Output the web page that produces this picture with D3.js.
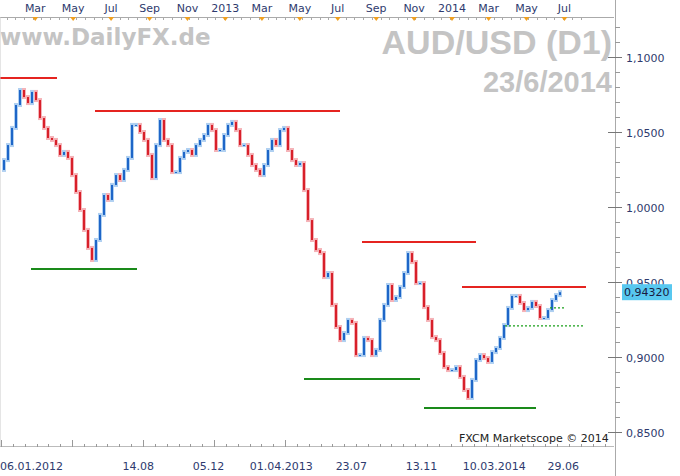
<!DOCTYPE html>
<html><head><meta charset="utf-8">
<script src="https://cdn.jsdelivr.net/npm/d3@7"></script>
<style>body{margin:0;background:#fff}svg{display:block;font-family:"DejaVu Sans",Verdana,sans-serif}</style>
</head><body><svg id="c" width="680" height="476"></svg>
<script>
// closes sampled roughly every 4 px (~6 trading days)
const closes=[1.0247,1.0313,1.0413,1.0527,1.068,1.078,1.0733,1.0693,1.0767,1.0713,1.0593,1.0527,1.046,1.0447,1.0413,1.0347,1.0367,1.0327,1.0213,1.01,0.998,0.9847,0.9727,0.9647,0.978,0.9947,1.008,1.0047,1.0147,1.0213,1.018,1.0247,1.0327,1.0547,1.0547,1.05,1.0447,1.0347,1.0193,1.0413,1.058,1.0447,1.0413,1.0233,1.0233,1.0327,1.0367,1.038,1.0347,1.0413,1.0447,1.048,1.0547,1.0513,1.038,1.038,1.048,1.0547,1.0567,1.0513,1.0413,1.0413,1.0347,1.028,1.0247,1.0213,1.028,1.038,1.0447,1.0413,1.0513,1.0527,1.038,1.0313,1.028,1.0293,1.0113,0.9913,0.978,0.9713,0.9693,0.9533,0.956,0.9347,0.92,0.9113,0.916,0.9247,0.9227,0.9013,0.9013,0.9127,0.9113,0.9013,0.9047,0.9247,0.9347,0.948,0.938,0.94,0.9467,0.956,0.9693,0.9633,0.9493,0.9493,0.9333,0.9247,0.9133,0.9113,0.9027,0.8933,0.8913,0.8913,0.8933,0.8867,0.878,0.8727,0.8847,0.898,0.9013,0.8993,0.8967,0.9033,0.906,0.9127,0.9213,0.9327,0.9407,0.9407,0.936,0.9313,0.9327,0.9367,0.934,0.926,0.926,0.9313,0.938,0.9413,0.9432];
const topLabels=["Mar","May","Jul","Sep","Nov","2013","Mar","May","Jul","Sep","Nov","2014","Mar","May","Jul"];
const topDates=["2012-03-01","2012-05-01","2012-07-01","2012-09-01","2012-11-01","2013-01-01","2013-03-01","2013-05-01","2013-07-01","2013-09-01","2013-11-01","2014-01-01","2014-03-01","2014-05-01","2014-07-01"];
const bottomLabels=["06.01.2012","14.08","05.12","01.04.2013","23.07","13.11","10.03.2014","29.06"];
const bottomDates=["2012-01-06","2012-08-14","2012-12-05","2013-04-01","2013-07-23","2013-11-13","2014-03-10","2014-06-29"];
const priceTicks=[1.1,1.05,1.0,0.95,0.9,0.85];
const lastPrice=0.9432;
// support/resistance: [startIndex, endIndex, price, color, dashed]
const levels=[[0,14.25,1.086,"#e52420",0],[23.75,85,1.064,"#e52420",0],[7.75,34.25,0.9587,"#1a8a1a",0],[90.5,119,0.9767,"#e52420",0],[76,105,0.8853,"#1a8a1a",0],[115.5,146.5,0.9467,"#e52420",0],[106,134,0.866,"#1a8a1a",0],[126.25,146.25,0.9207,"#1aa01a",1],[137.5,141,0.9327,"#1aa01a",1]];

const svg=d3.select("#c");
const y=d3.scaleLinear().domain([0.85,1.1]).range([432,57]);
const xi=d3.scaleLinear().domain([0,closes.length-1]).range([0,560]);
const xt=d3.scaleTime().domain([new Date("2012-01-01"),new Date("2014-01-01")]).range([-2,452]);
const txt="#2e3a6e";

// watermark texts
svg.append("text").attr("x",0).attr("y",45).attr("font-size",23).attr("font-weight","bold").attr("fill","#c4c4c4").text("www.DailyFX.de");
svg.append("text").attr("x",612).attr("y",54).attr("text-anchor","end").attr("font-size",34).attr("font-weight","bold").attr("fill","#c4c4c4").attr("font-family","Liberation Sans,Arial").text("AUD/USD (D1)");
svg.append("text").attr("x",612).attr("y",92).attr("text-anchor","end").attr("font-size",29).attr("font-weight","bold").attr("fill","#c4c4c4").attr("font-family","Liberation Sans,Arial").text("23/6/2014");

// candles
const g=svg.append("g");
closes.forEach((c,i)=>{
  if(i===0)return;
  const o=closes[i-1], up=c>=o;
  const x=xi(i)-1.5;
  g.append("rect").attr("x",x-0.5).attr("width",4).attr("y",y(Math.max(o,c))-2).attr("height",Math.abs(y(o)-y(c))+4).attr("fill",up?"#9cc4ee":"#f3a0a6").attr("opacity",0.8);
  g.append("rect").attr("x",x+0.5).attr("width",2).attr("y",y(Math.max(o,c))).attr("height",Math.max(1,Math.abs(y(o)-y(c)))).attr("fill",up?"#1e66c8":"#d8202a");
});
levels.forEach(l=>{
  svg.append("line").attr("x1",xi(l[0])).attr("x2",xi(l[1])).attr("y1",y(l[2])).attr("y2",y(l[2]))
   .attr("stroke",l[3]).attr("stroke-width",l[4]?1.3:2).attr("stroke-dasharray",l[4]?"2,2":null);
});

// top axis
svg.append("line").attr("x1",0).attr("x2",614).attr("y1",17.5).attr("y2",17.5).attr("stroke","#aaa");
for(let d=new Date("2012-01-01");d<new Date("2014-08-01");d=d3.timeWeek.offset(d,2)){
  const x=Math.round(xt(d))+0.5; if(x<0||x>612)continue;
  svg.append("line").attr("x1",x).attr("x2",x).attr("y1",17).attr("y2",20).attr("stroke","#aaa");
}
topDates.forEach((d,i)=>{
  const x=xt(new Date(d));
  svg.append("path").attr("d",`M${x-3},17L${x+3},17L${x},21Z`).attr("fill","#f0a020");
  svg.append("text").attr("x",x).attr("y",12).attr("text-anchor","middle").attr("font-size",11).attr("fill",txt).text(topLabels[i]);
});

// bottom axis
svg.append("line").attr("x1",0).attr("x2",614).attr("y1",446.5).attr("y2",446.5).attr("stroke","#bbb");
for(let x=1;x<612;x+=71/6){
  const major=Math.abs(((x-1)/(71/6))%6)<0.01;
  svg.append("line").attr("x1",Math.round(x)+0.5).attr("x2",Math.round(x)+0.5).attr("y1",major?440:444).attr("y2",447).attr("stroke","#999");
}
bottomDates.forEach((d,i)=>{
  const x=i===0?0:xt(new Date(d));
  svg.append("text").attr("x",x).attr("y",470).attr("text-anchor",i===0?"start":"middle").attr("font-size",11).attr("fill",txt).text(bottomLabels[i]);
});

// right axis
svg.append("line").attr("x1",615.5).attr("x2",615.5).attr("y1",0).attr("y2",476).attr("stroke","#aaa");
svg.append("line").attr("x1",0).attr("x2",0).attr("y1",17).attr("y2",447).attr("stroke","#ccc");
for(let p=0.84;p<=1.121;p+=0.01){
  const yy=Math.round(y(p))+0.5; if(yy<20||yy>445)continue;
  svg.append("line").attr("x1",615).attr("x2",620).attr("y1",yy).attr("y2",yy).attr("stroke","#999");
}
priceTicks.forEach(p=>{
  const yy=Math.round(y(p))+0.5;
  svg.append("line").attr("x1",608).attr("x2",622).attr("y1",yy).attr("y2",yy).attr("stroke","#777");
  svg.append("text").attr("x",626).attr("y",yy+4).attr("font-size",11).attr("fill",txt).text(d3.format(".4f")(p).replace(".",","));
});
svg.append("rect").attr("x",622).attr("y",y(lastPrice)-8).attr("width",50).attr("height",16).attr("fill","#58c8f0");
svg.append("text").attr("x",624).attr("y",y(lastPrice)+4).attr("font-size",11).attr("fill","#1a1a40").text(d3.format(".5f")(lastPrice).replace(".",","));

svg.append("text").attr("x",459).attr("y",442).attr("font-size",11).attr("fill","#222").text("FXCM Marketscope © 2014");
</script></body></html>
